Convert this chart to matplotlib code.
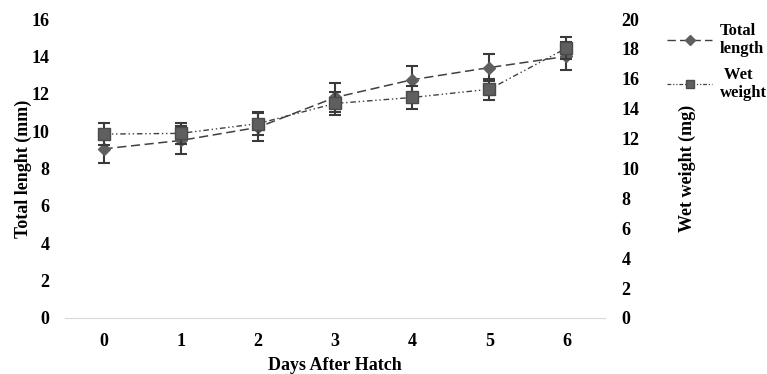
import matplotlib.pyplot as plt
from matplotlib.lines import Line2D
import numpy as np

days = [0, 1, 2, 3, 4, 5, 6]
total_length = [9.05, 9.5, 10.2, 11.8, 12.75, 13.4, 14.0]
length_sd = [0.75, 0.75, 0.75, 0.75, 0.72, 0.72, 0.75]
wet_weight = [12.3, 12.35, 13.0, 14.35, 14.75, 15.3, 18.05]
weight_sd = [0.75, 0.72, 0.75, 0.78, 0.75, 0.7, 0.75]

plt.rcParams['font.family'] = ['Liberation Serif', 'DejaVu Serif']
plt.rcParams['font.weight'] = 'bold'

line_col = '#404040'
mark_col = '#5f5f5f'
dash_len = (0, (6, 3))
dash_wt = (0, (4, 2, 1, 2, 1, 2))

fig = plt.figure(figsize=(7.67, 3.74), dpi=100)
ax = fig.add_axes([65 / 767, 56 / 374, 540 / 767, 299 / 374])
ax2 = ax.twinx()

x = np.arange(len(days))
ax.errorbar(x, total_length, yerr=length_sd, color=line_col, ls=dash_len,
            lw=1.1, marker='D', ms=6.5, mfc=mark_col, mec=mark_col,
            ecolor='#3a3a3a', elinewidth=1.5, capsize=4, capthick=1.5)
ax2.errorbar(x, wet_weight, yerr=weight_sd, color=line_col, ls=dash_wt,
             lw=1.0, marker='s', ms=8, mfc=mark_col, mec='#4a4a4a',
             ecolor='#3a3a3a', elinewidth=1.5, capsize=4, capthick=1.5)
ax2.plot(x, wet_weight, ls='none', marker='x', ms=5, mec='#8a8a8a', mew=0.8)

ax.set_xlim(-0.5, 6.5)
ax.set_ylim(0, 16)
ax2.set_ylim(0, 20)
ax.set_xticks(x)
ax.set_xticklabels([str(d) for d in days])
ax.set_yticks(np.arange(0, 17, 2))
ax2.set_yticks(np.arange(0, 21, 2))

for a in (ax, ax2):
    for s in ('top', 'left', 'right'):
        a.spines[s].set_visible(False)
    a.spines['bottom'].set_color('#d9d9d9')
    a.tick_params(length=0, labelsize=13)
ax.tick_params(axis='x', pad=11)
ax.tick_params(axis='y', pad=11)
ax2.tick_params(axis='y', pad=12)
ax2.spines['bottom'].set_visible(False)

ax.set_xlabel('Days After Hatch', fontsize=13, fontweight='bold', labelpad=5)
ax.set_ylabel('Total lenght (mm)', fontsize=13, fontweight='bold', labelpad=0)
ax2.set_ylabel('Wet weight (mg)', fontsize=13, fontweight='bold', labelpad=28)

h1 = Line2D([], [], color=line_col, ls=dash_len, lw=1.0, marker='D', ms=5,
            mfc=mark_col, mec=mark_col)
h2 = Line2D([], [], color=line_col, ls=(0, (3, 1.5, 1, 1.5, 1, 1.5)), lw=0.9,
            marker='s', ms=6, mfc=mark_col, mec='#4a4a4a')
fig.legend([h1, h2], ['Total\nlength', ' Wet\nweight'],
           loc='upper left', bbox_to_anchor=(667 / 767, 1 - 23 / 374),
           frameon=False, fontsize=12, handlelength=2.7, handletextpad=0.45,
           labelspacing=0.55, borderaxespad=0, borderpad=0)

fig.savefig('out.png', dpi=100)
